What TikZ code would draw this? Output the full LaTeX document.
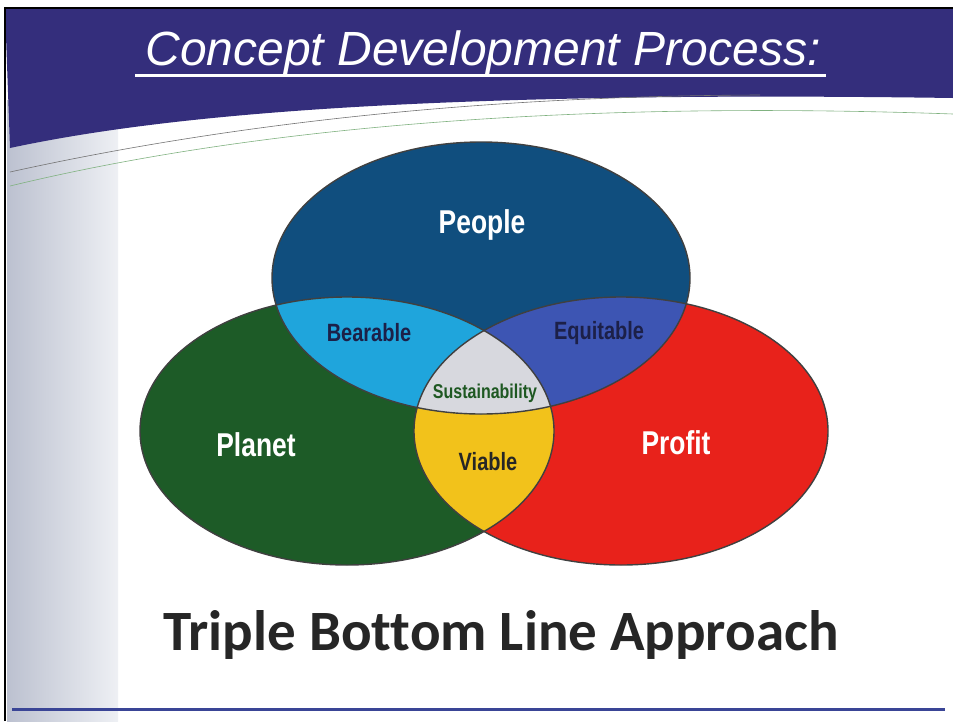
\documentclass[tikz,border=0pt]{standalone}
\usepackage{fontspec}
\setmainfont{Liberation Sans}
\newfontfamily\narrowsans[FakeStretch=0.8]{Liberation Sans}
\newfontfamily\titlesans{Liberation Sans}
\newfontfamily\carlito[Ligatures=NoCommon]{Carlito}
\definecolor{bandblue}{RGB}{52,46,124}
\definecolor{peopleblue}{RGB}{16,78,126}
\definecolor{bearcyan}{RGB}{31,165,220}
\definecolor{equiblue}{RGB}{61,85,179}
\definecolor{sustgrey}{RGB}{215,216,222}
\definecolor{viableyel}{RGB}{242,194,27}
\definecolor{planetgreen}{RGB}{29,91,39}
\definecolor{profitred}{RGB}{232,34,27}
\definecolor{labelnavy}{RGB}{28,32,72}
\definecolor{sustgreen}{RGB}{30,88,34}
\definecolor{rulerblue}{RGB}{58,69,150}
\definecolor{panelgrey}{RGB}{188,193,208}
\definecolor{panellight}{RGB}{238,240,244}
\usetikzlibrary{positioning}

\begin{document}
\begin{tikzpicture}[x=1pt,y=-1pt,
  bigname/.style={text=white,font=\narrowsans\bfseries\fontsize{33}{36}\selectfont},
  smallname/.style={text=labelnavy,font=\narrowsans\bfseries\fontsize{25}{28}\selectfont},
  outline/.style={draw=black!75,line width=1.4pt}]
  \useasboundingbox (0,0) rectangle (953,721);
  \fill[white] (0,0) rectangle (953,721);
  % left grey panel
  \shade[left color=panelgrey,right color=panellight] (7,100) rectangle (118,721);
  % header band and swoosh
  \fill[bandblue] (5,8) -- (953,8) -- (953,98) .. controls (400,90) and (150,118) .. (10,148) -- cycle;
  \draw[black!55,line width=0.6pt] (10,172) .. controls (200,130) and (450,96) .. (760,95);
  \draw[green!40!black!50,line width=0.6pt] (10,186) .. controls (200,140) and (500,98) .. (953,114);
  % frame
  \draw[black,line width=1.5pt] (5,721) -- (5,8) -- (953,8);
  % title
  \node[anchor=base,text=white,font=\titlesans\itshape\fontsize{48}{54}\selectfont] (title) at (483,65) {Concept Development Process:};
  \coordinate (ulL) at (135,75);
  \coordinate (ulR) at (826,75);
  \draw[white,line width=3pt] (ulL) -- (ulR);
  % circles
  \fill[planetgreen] (347,431) ellipse [x radius=207pt,y radius=134pt];
  \fill[profitred] (621,431) ellipse [x radius=207pt,y radius=134pt];
  \begin{scope}
    \clip (347,431) ellipse [x radius=207pt,y radius=134pt];
    \fill[viableyel] (621,431) ellipse [x radius=207pt,y radius=134pt];
  \end{scope}
  \fill[peopleblue] (481,278) ellipse [x radius=209pt,y radius=136pt];
  \begin{scope}
    \clip (481,278) ellipse [x radius=209pt,y radius=136pt];
    \fill[bearcyan] (347,431) ellipse [x radius=207pt,y radius=134pt];
    \fill[equiblue] (621,431) ellipse [x radius=207pt,y radius=134pt];
    \clip (347,431) ellipse [x radius=207pt,y radius=134pt];
    \fill[sustgrey] (621,431) ellipse [x radius=207pt,y radius=134pt];
  \end{scope}
  \draw[outline] (347,431) ellipse [x radius=207pt,y radius=134pt];
  \draw[outline] (621,431) ellipse [x radius=207pt,y radius=134pt];
  \draw[outline] (481,278) ellipse [x radius=209pt,y radius=136pt];
  % labels
  \node[bigname] (people) at (482,225) {People};
  \node[bigname] (planet) at (256,445) {Planet};
  \node[bigname] (profit) at (676,443) {Profit};
  \node[smallname] (bearable) at (369,333) {Bearable};
  \node[smallname] (equitable) at (599,333) {Equitable};
  \node[smallname,text=sustgreen,font=\narrowsans\bfseries\fontsize{20}{22}\selectfont] (sust) at (485,393) {Sustainability};
  \node[smallname,text=black!85] (viable) at (488,462) {Viable};
  % caption and rule
  \node[anchor=base,text=black!85,font=\carlito\bfseries\fontsize{57}{62}\selectfont] (caption) at (501,650) {Triple Bottom Line Approach};
  \coordinate (ruleL) at (12,709);
  \coordinate (ruleR) at (945,709);
  \draw[rulerblue,line width=3pt] (ruleL) -- (ruleR);
\end{tikzpicture}
\end{document}
